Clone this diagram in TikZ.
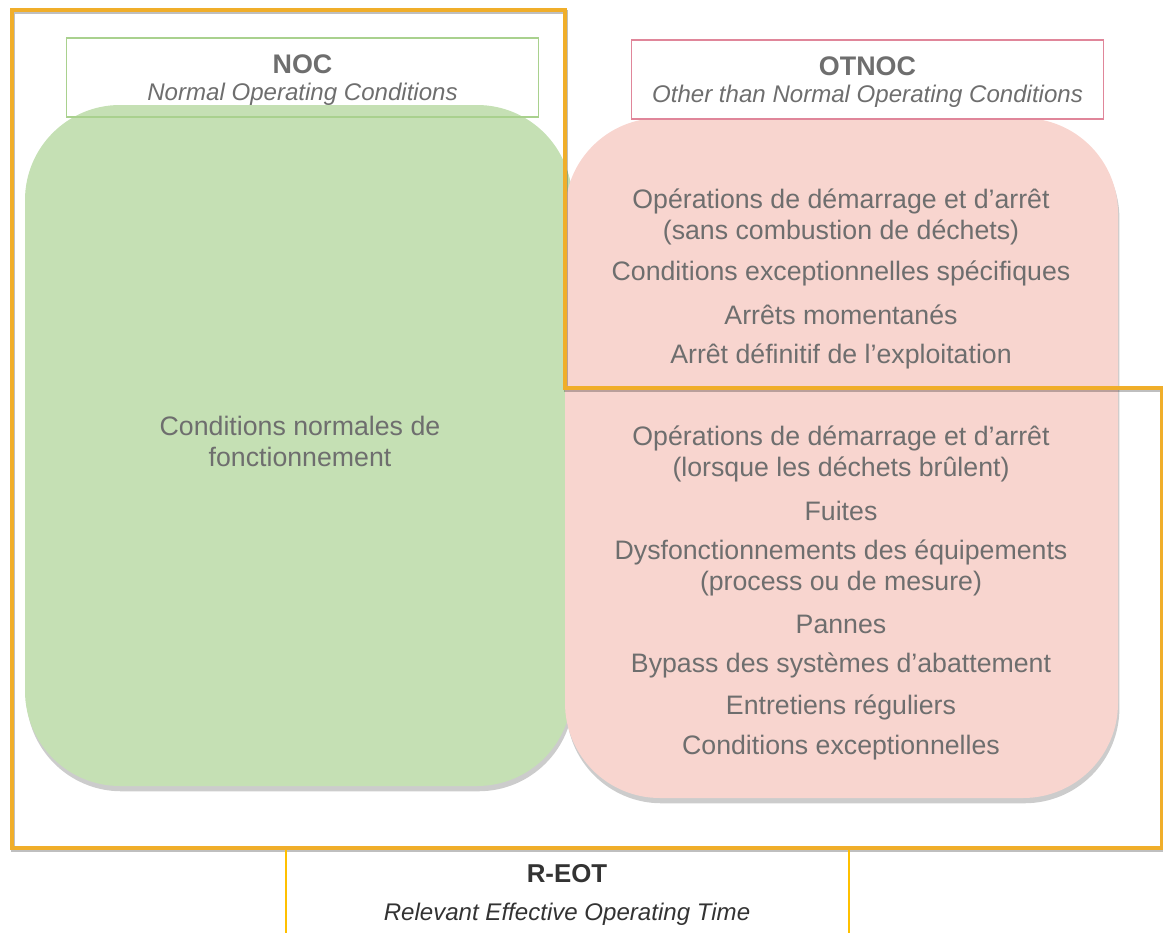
\documentclass[tikz,border=0pt]{standalone}
\usepackage{fontspec}
\setmainfont{Liberation Sans}
\usetikzlibrary{shadows}
\definecolor{frameorange}{HTML}{F0AE2A}
\definecolor{nocfill}{HTML}{C5E0B4}
\definecolor{nocedge}{HTML}{A9D18E}
\definecolor{otfill}{HTML}{F8D5CF}
\definecolor{otedge}{HTML}{E0869A}
\definecolor{txtgray}{HTML}{6E6E6E}
\definecolor{reotedge}{HTML}{FFC000}
\newcommand{\headfont}{\fontsize{15.3}{18}\selectfont\bfseries}
\newcommand{\subfont}{\fontsize{13.7}{16}\selectfont\itshape}

\begin{document}
\begin{tikzpicture}[x=0.02cm,y=-0.02cm,
  every node/.style={font=\fontsize{15.2}{17.6}\selectfont,text=txtgray,align=center,inner sep=0pt},
  panel/.style={rounded corners=1.9cm,drop shadow={shadow xshift=0.8pt,shadow yshift=-3pt,opacity=0.4}},
  titlebox/.style={draw,line width=0.6pt,minimum width=9.46cm,minimum height=1.58cm}]
  \useasboundingbox (0,0) rectangle (1163,933);
  % the two panels
  \path[panel,fill=nocfill] (25,105) rectangle (572,786);
  \path[panel,fill=otfill] (565,118) rectangle (1118,798);
  % titles
  \node[titlebox,draw=nocedge] (noc) at (302.5,77.5) {};
  \node (noctext) at (302.5,80) {{\headfont NOC}\\[-2.5pt]{\subfont Normal Operating Conditions}};
  \node[titlebox,draw=otedge] (otnoc) at (867.5,79.5) {};
  \node (otnoctext) at (867.5,82) {{\headfont OTNOC}\\[-2.5pt]{\subfont Other than Normal Operating Conditions}};
  \node (normal) at (300,441) {Conditions normales de\\fonctionnement};
  % OTNOC items
  \node (startA) at (841,216.5) {Opérations de démarrage et d’arrêt\\(sans combustion de déchets)};
  \node (excspec) at (841,273) {Conditions exceptionnelles spécifiques};
  \node (momarr) at (841,315) {Arrêts momentanés};
  \node (defarr) at (841,356) {Arrêt définitif de l’exploitation};
  \node (startB) at (841,453.5) {Opérations de démarrage et d’arrêt\\(lorsque les déchets brûlent)};
  \node (leaks) at (841,511) {Fuites};
  \node (malf) at (841,567.5) {Dysfonctionnements des équipements\\(process ou de mesure)};
  \node (fail) at (841,624) {Pannes};
  \node (bypass) at (841,665) {Bypass des systèmes d’abattement};
  \node (maint) at (841,707) {Entretiens réguliers};
  \node (exc) at (841,748) {Conditions exceptionnelles};
  % R-EOT frame
  \draw[black,opacity=0.25,line width=2.3pt,shift={(1,2)}] (12,10) -- (565,10) -- (565,388) -- (1162,388) -- (1162,848) -- (12,848) -- cycle;
  \draw[reotedge,line width=1pt] (286,933) -- (286,848) -- (849,848) -- (849,933);
  \draw[frameorange,line width=2.3pt] (12,10) -- (565,10) -- (565,388) -- (1162,388) -- (1162,848) -- (12,848) -- cycle;
  \node[text=black!80] (reot) at (567,895) {{\fontsize{14.7}{17}\selectfont\bfseries R-EOT}\\[4pt]{\subfont Relevant Effective Operating Time}};
\end{tikzpicture}
\end{document}
